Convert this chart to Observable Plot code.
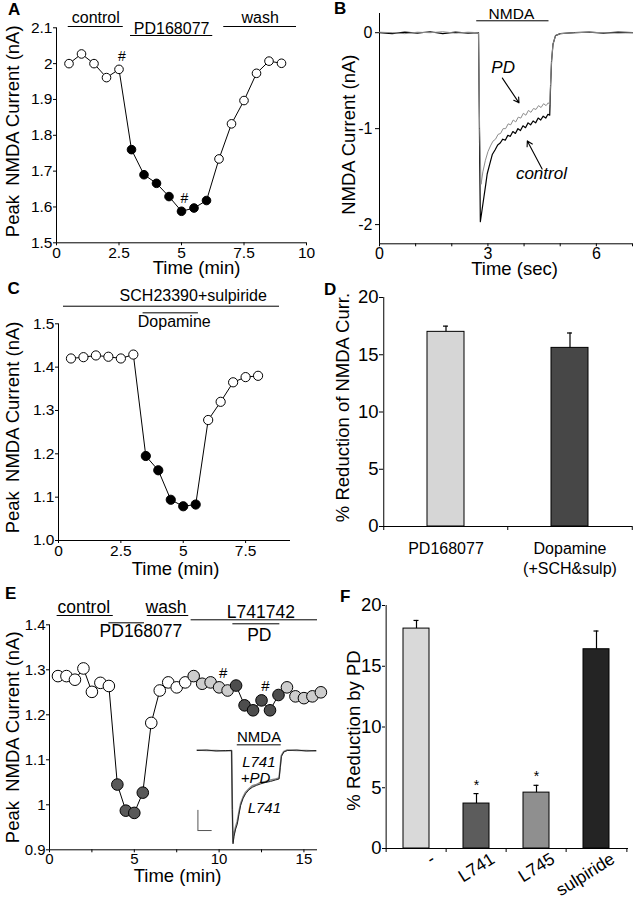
<!DOCTYPE html>
<html><head><meta charset="utf-8">
<script src="https://cdn.jsdelivr.net/npm/d3@7"></script>
<script src="https://cdn.jsdelivr.net/npm/@observablehq/plot@0.6"></script>
<style>
html,body{margin:0;padding:0;background:#fff;}
#fig{position:relative;width:634px;height:899px;overflow:hidden;background:#fff;font-family:"Liberation Sans",Arial,sans-serif;}
#fig svg{position:absolute;overflow:visible;}
.lab{position:absolute;font-weight:bold;font-size:17px;line-height:1;}
</style></head><body><div id="fig"></div>
<script>
// ---------- Panel A ----------
const aTime = [0.5,1,1.5,2,2.5,3,3.5,4,4.5,5,5.5,6,6.5,7,7.5,8,8.5,9];
const aCurrent = [2.0,2.027,2.0,1.961,1.984,1.76,1.69,1.666,1.629,1.588,1.597,1.618,1.734,1.832,1.897,1.973,2.007,2.001];
const aPhase = ["control","control","control","control","control","PD168077","PD168077","PD168077","PD168077","PD168077","PD168077","PD168077","wash","wash","wash","wash","wash","wash"];
const aHash = [2.5, 5];
const aTreatLabels = ["control","PD168077","wash"];
const aTreatStart = [0.47, 2.96, 6.69];
const aTreatEnd = [2.67, 6.25, 9.6];
const aYTicks = [1.5,1.6,1.7,1.8,1.9,2.0,2.1];
const aXTicks = [0,2.5,5,7.5,10];

// ---------- Panel B ----------
const bCtrlT = [0,0.35,0.7,1.05,1.4,1.75,2.1,2.45,2.74,2.77,2.79,2.84,2.89,2.94,2.98,3.05,3.12,3.2,3.27,3.34,3.41,3.48,3.55,3.62,3.69,3.76,3.83,3.9,3.97,4.04,4.11,4.18,4.25,4.32,4.39,4.46,4.53,4.6,4.66,4.71,4.73,4.76,4.8,4.87,5.0,5.4,5.8,6.2,6.6,7.0];
const bCtrlV = [0,-0.01,0.005,-0.005,0.01,-0.01,0.005,-0.005,0,-1.2,-1.97,-1.84,-1.71,-1.58,-1.47,-1.37,-1.27,-1.22,-1.17,-1.15,-1.11,-1.12,-1.07,-1.08,-1.03,-1.05,-1.0,-1.02,-0.97,-0.99,-0.94,-0.96,-0.92,-0.94,-0.89,-0.91,-0.87,-0.89,-0.85,-0.86,-0.6,-0.3,-0.12,-0.03,-0.01,0,0.005,-0.005,0.005,0];
const bPdT = [0,0.35,0.7,1.05,1.4,1.75,2.1,2.45,2.74,2.77,2.81,2.86,2.93,3.0,3.07,3.14,3.21,3.28,3.35,3.42,3.49,3.56,3.63,3.7,3.77,3.84,3.91,3.98,4.05,4.12,4.19,4.26,4.33,4.4,4.47,4.54,4.61,4.67,4.71,4.73,4.76,4.8,4.87,5.0,5.4,5.8,6.2,6.6,7.0];
const bPdV = [0.005,0,-0.01,0.005,0,0.01,-0.005,0.005,0,-1.0,-1.58,-1.45,-1.33,-1.24,-1.18,-1.13,-1.11,-1.06,-1.05,-1.0,-1.0,-0.95,-0.96,-0.91,-0.93,-0.88,-0.89,-0.84,-0.86,-0.81,-0.83,-0.79,-0.8,-0.76,-0.78,-0.74,-0.76,-0.73,-0.75,-0.55,-0.3,-0.12,-0.03,-0.01,0,0.005,0,-0.005,0];
const bYTicks = [0,-1,-2];
const bXTicks = [0,3,6];
const bXMinor = [1,2,4,5,7];

// ---------- Panel C ----------
const cTime = [0.5,1,1.5,2,2.5,3,3.5,4,4.5,5,5.5,6,6.5,7,7.5,8];
const cCurrent = [1.42,1.423,1.427,1.424,1.42,1.429,1.195,1.162,1.094,1.079,1.083,1.278,1.32,1.365,1.377,1.38];
const cPhase = ["ctrl","ctrl","ctrl","ctrl","ctrl","ctrl","dopamine","dopamine","dopamine","dopamine","dopamine","wash","wash","wash","wash","wash"];
const cYTicks = [1.0,1.1,1.2,1.3,1.4,1.5];
const cXTicks = [0,2.5,5,7.5];

// ---------- Panel D ----------
const dCats = ["PD168077","Dopamine\n(+SCH&sulp)"];
const dMean = [17.0, 15.6];
const dErr = [0.5, 1.3];
const dYTicks = [0,5,10,15,20];

// ---------- Panel E ----------
const eTime = [0.5,1,1.5,2,2.5,3,3.5,4,4.5,5,5.5,6,6.5,7,7.5,8,8.5,9,9.5,10,10.5,11,11.5,12,12.5,13,13.5,14,14.5,15,15.5,16];
const eCurrent = [1.286,1.286,1.278,1.303,1.251,1.271,1.264,1.045,0.987,0.982,1.027,1.182,1.254,1.272,1.261,1.272,1.286,1.269,1.272,1.261,1.254,1.265,1.221,1.21,1.232,1.21,1.244,1.261,1.241,1.237,1.241,1.25];
const ePhase = ["control","control","control","control","control","control","control","PD","PD","PD","PD","wash","wash","wash","wash","wash","L741","L741","L741","L741","L741","L741+PD","L741+PD","L741+PD","L741+PD","L741+PD","L741+PD","L741","L741","L741","L741","L741"];
const eHash = [10, 12.5];
const eYTicks = [0.9,1.0,1.1,1.2,1.3,1.4];
const eXTicks = [0,5,10,15];
const eXMinor = [2.5,7.5,12.5];
// inset traces (NMDA current, L741 vs L741+PD)
const inT = [0,0.4,0.8,1.2,1.45,1.48,1.51,1.55,1.62,1.69,1.76,1.83,1.93,2.04,2.18,2.32,2.5,2.67,2.88,3.09,3.3,3.45,3.5,3.55,3.65,3.8,4.2,4.6,5.0];
const inL741 = [0,0.01,-0.01,0,0,-1.2,-1.9,-1.75,-1.6,-1.5,-1.3,-1.12,-0.98,-0.88,-0.8,-0.75,-0.71,-0.68,-0.65,-0.63,-0.6,-0.58,-0.35,-0.12,-0.03,0,0.01,-0.01,0];
const inL741PD = [0.01,0,0,-0.01,0,-1.15,-1.86,-1.7,-1.55,-1.44,-1.25,-1.08,-0.95,-0.85,-0.78,-0.72,-0.69,-0.65,-0.63,-0.6,-0.58,-0.56,-0.33,-0.1,-0.02,0.01,0,0,-0.01];

// ---------- Panel F ----------
const fCats = ["-","L741","L745","sulpiride"];
const fMean = [18.1, 3.7, 4.6, 16.4];
const fErr = [0.67, 0.82, 0.6, 1.5];
const fSig = [false, true, true, false];
const fYTicks = [0,5,10,15,20];

// ================= drawing =================
const FONT = '"Liberation Sans", Arial, Helvetica, sans-serif';
const baseStyle = {fontFamily: FONT, background: "transparent", overflow: "visible"};
const fig = document.getElementById("fig");
function place(node, left, top) { node.style.left = left + "px"; node.style.top = top + "px"; fig.appendChild(node); }
function letter(t, left, top) { const s = document.createElement("div"); s.className = "lab"; s.textContent = t; s.style.left = left + "px"; s.style.top = top + "px"; fig.appendChild(s); }
const fmt1 = d => String(+d.toFixed(1));
const TITLE = 18.5;
function yTitle(text, dx, dy) {
  return Plot.text([text], {frameAnchor: "left", rotate: -90, dx, dy, fontSize: TITLE, textAnchor: "middle", lineAnchor: "middle"});
}
function xTitle(text, dx, dy) {
  return Plot.text([text], {frameAnchor: "bottom", dx, dy, fontSize: TITLE, textAnchor: "middle", lineAnchor: "middle"});
}

// A
const aRows = aTime.map((t, i) => ({t, v: aCurrent[i], phase: aPhase[i]}));
const aTreat = aTreatLabels.map((label, i) => ({label, start: aTreatStart[i], end: aTreatEnd[i], level: label === "PD168077" ? 1 : 0}));
const plotA = Plot.plot({
  width: 317, height: 280, marginLeft: 56, marginRight: 11, marginTop: 27.3, marginBottom: 37.7,
  style: baseStyle,
  x: {domain: [0, 10]}, y: {domain: [1.5, 2.1]},
  color: {type: "ordinal", domain: ["control","PD168077","wash"], range: ["white","black","white"]},
  marks: [
    Plot.axisY({ticks: aYTicks, tickSize: 3, tickPadding: 1, fontSize: 15.5, label: null, tickFormat: fmt1}),
    Plot.axisX({ticks: aXTicks, tickSize: 3, tickPadding: 1, fontSize: 15.5, label: null, tickFormat: d => String(d)}),
    Plot.ruleX([0]), Plot.ruleY([1.5]),
    yTitle("Peak\u2002NMDA Current (nA)", -43, -4),
    xTitle("Time (min)", 15, 25),
    Plot.ruleY(aTreat, {x1: "start", x2: "end", y: d => d.level ? 2.0785 : 2.1036, strokeWidth: 1}),
    Plot.text(aTreat, {x: d => (d.start + d.end) / 2, y: d => d.level ? 2.0833 : 2.1128, text: "label", lineAnchor: "bottom", fontSize: 16}),
    Plot.line(aRows, {x: "t", y: "v", strokeWidth: 1}),
    Plot.dot(aRows, {x: "t", y: "v", r: 4.3, fill: "phase", stroke: "black", strokeWidth: 1}),
    Plot.text(aRows.filter(d => aHash.includes(d.t)), {x: "t", y: "v", text: () => "#", dx: 3, dy: -13, fontSize: 14, lineAnchor: "middle"})
  ]
});
place(plotA, 0, 0);

// B
const bCtrlRows = bCtrlT.map((t, i) => ({t, v: bCtrlV[i]}));
const bPdRows = bPdT.map((t, i) => ({t, v: bPdV[i]}));
const plotB = Plot.plot({
  width: 317, height: 280, marginLeft: 62, marginRight: 2, marginTop: 13, marginBottom: 36.7,
  style: baseStyle,
  x: {domain: [0, 7]}, y: {domain: [-2.2, 0.2]},
  marks: [
    Plot.axisY({ticks: bYTicks, tickSize: 4, tickPadding: 3, fontSize: 16, label: null, tickFormat: d => String(d)}),
    Plot.axisX({ticks: bXTicks, tickSize: 3, tickPadding: 1, fontSize: 16, label: null, tickFormat: d => String(d)}),
    Plot.axisX({ticks: bXMinor, tickSize: 3, label: null, tickFormat: () => ""}),
    Plot.ruleX([0]), Plot.ruleY([-2.2]),
    yTitle("NMDA Current (nA)", -30, 6),
    xTitle("Time (sec)", 8.5, 25),
    Plot.line(bCtrlRows, {x: "t", y: "v", stroke: "black", strokeWidth: 1.2}),
    Plot.line(bPdRows, {x: "t", y: "v", stroke: "#8c8c8c", strokeWidth: 1}),
    Plot.ruleY([0.124], {x1: 2.69, x2: 4.69, strokeWidth: 1}),
    Plot.text(["NMDA"], {x: 3.65, y: 0.142, lineAnchor: "bottom", fontSize: 15.5}),
    Plot.text(["PD"], {x: 3.42, y: -0.421, lineAnchor: "bottom", fontSize: 17, fontStyle: "italic"}),
    Plot.text(["control"], {x: 4.48, y: -1.524, lineAnchor: "bottom", fontSize: 17, fontStyle: "italic"}),
    Plot.arrow([{x1: 3.40, y1: -0.473, x2: 3.86, y2: -0.731}, {x1: 4.50, y1: -1.42, x2: 4.09, y2: -1.128}],
      {x1: "x1", y1: "y1", x2: "x2", y2: "y2", headLength: 8, strokeWidth: 1.1})
  ]
});
place(plotB, 317, 0);

// C
const cRows = cTime.map((t, i) => ({t, v: cCurrent[i], phase: cPhase[i]}));
const plotC = Plot.plot({
  width: 317, height: 300, marginLeft: 58, marginRight: 27, marginTop: 43.3, marginBottom: 40,
  style: baseStyle,
  x: {domain: [0, 9.3]}, y: {domain: [1.0, 1.5]},
  color: {type: "ordinal", domain: ["ctrl","dopamine","wash"], range: ["white","black","white"]},
  marks: [
    Plot.axisY({ticks: cYTicks, tickSize: 3, tickPadding: 1, fontSize: 15.5, label: null, tickFormat: d3.format(".1f")}),
    Plot.axisX({ticks: cXTicks, tickSize: 3, tickPadding: 1, fontSize: 15.5, label: null, tickFormat: d => String(d)}),
    Plot.ruleX([0]), Plot.ruleY([1.0]),
    yTitle("Peak\u2002NMDA Current (nA)", -45, -4.7),
    xTitle("Time (min)", 1, 29),
    Plot.ruleY([1.5406], {x1: 0.2, x2: 8.86, strokeWidth: 1}),
    Plot.text(["SCH23390+sulpiride"], {x: 5.4, y: 1.552, lineAnchor: "bottom", fontSize: 16}),
    Plot.ruleY([1.5253], {x1: 3.39, x2: 5.61, strokeWidth: 1}),
    Plot.text(["Dopamine"], {x: 4.64, y: 1.4922, lineAnchor: "bottom", fontSize: 16}),
    Plot.line(cRows, {x: "t", y: "v", strokeWidth: 1}),
    Plot.dot(cRows, {x: "t", y: "v", r: 4.6, fill: "phase", stroke: "black", strokeWidth: 1})
  ]
});
place(plotC, 0, 280);

// D
const dRows = dCats.map((cat, i) => ({cat, v: dMean[i], e: dErr[i]}));
const dStep = (317 - 66 - 2) / dCats.length;
const dTick = -4 * 20 / (300 - 17 - 54);
const plotD = Plot.plot({
  width: 317, height: 300, marginLeft: 66, marginRight: 2, marginTop: 17, marginBottom: 54,
  style: baseStyle,
  x: {domain: dCats, paddingInner: 0.7, paddingOuter: 0.35, axis: null},
  y: {domain: [0, 20]},
  color: {type: "ordinal", domain: dCats, range: ["#d6d6d6", "#474747"]},
  marks: [
    Plot.axisY({ticks: dYTicks, tickSize: 4, tickPadding: 1, fontSize: 18.5, label: null, tickFormat: d => String(d)}),
    Plot.ruleX([dCats[0]], {x: d => d, dx: -dStep / 2}),
    Plot.ruleY([0]),
    Plot.ruleX(dCats, {x: d => d, dx: -dStep / 2, y1: 0, y2: dTick}),
    Plot.ruleX([dCats[dCats.length - 1]], {x: d => d, dx: dStep / 2, y1: 0, y2: dTick}),
    Plot.barY(dRows, {x: "cat", y: "v", fill: "cat", stroke: "black", strokeWidth: 1}),
    Plot.ruleX(dRows, {x: "cat", y1: "v", y2: d => d.v + d.e, strokeWidth: 1.2}),
    Plot.tickY(dRows, {x: "cat", y: d => d.v + d.e, insetLeft: 16, insetRight: 16, strokeWidth: 1.2}),
    Plot.text(dRows, {x: "cat", text: "cat", frameAnchor: "bottom", lineAnchor: "top", dy: 13.5, fontSize: 16, lineHeight: 1.23}),
    yTitle("% Reduction of NMDA Curr.", -40, -4.5)
  ]
});
place(plotD, 317, 280);

// F
const fRows = fCats.map((cat, i) => ({cat, v: fMean[i], e: fErr[i], sig: fSig[i]}));
const fStep = (317 - 68 - 6) / fCats.length;
const fTick = -4 * 20 / (319 - 25 - 51);
const plotF = Plot.plot({
  width: 317, height: 319, marginLeft: 68, marginRight: 6, marginTop: 25, marginBottom: 51,
  style: baseStyle,
  x: {domain: fCats, paddingInner: 0.56, paddingOuter: 0.28, axis: null},
  y: {domain: [0, 20]},
  color: {type: "ordinal", domain: fCats, range: ["#d9d9d9", "#5c5c5c", "#8f8f8f", "#242424"]},
  marks: [
    Plot.axisY({ticks: fYTicks, tickSize: 3, tickPadding: 1, fontSize: 18.5, label: null, tickFormat: d => String(d)}),
    Plot.ruleX([fCats[0]], {x: d => d, dx: -fStep / 2}),
    Plot.ruleY([0]),
    Plot.ruleX(fCats, {x: d => d, dx: -fStep / 2, y1: 0, y2: fTick}),
    Plot.ruleX([fCats[fCats.length - 1]], {x: d => d, dx: fStep / 2, y1: 0, y2: fTick}),
    Plot.barY(fRows, {x: "cat", y: "v", fill: "cat", stroke: "black", strokeWidth: 1}),
    Plot.ruleX(fRows, {x: "cat", y1: "v", y2: d => d.v + d.e, strokeWidth: 1.2}),
    Plot.tickY(fRows, {x: "cat", y: d => d.v + d.e, insetLeft: 10.5, insetRight: 10.5, strokeWidth: 1.2}),
    Plot.text(fRows.filter(d => d.sig), {x: "cat", y: d => d.v + d.e, text: () => "*", dy: -4, lineAnchor: "bottom", fontSize: 14}),
    Plot.text(fRows, {x: "cat", text: "cat", frameAnchor: "bottom", textAnchor: "end", lineAnchor: "top", rotate: -32, dx: 13, dy: 3, fontSize: 17.5}),
    yTitle("% Reduction by PD", -31, 3.5)
  ]
});
place(plotF, 317, 580);

// E
const eRows = eTime.map((t, i) => ({t, v: eCurrent[i], phase: ePhase[i]}));
const plotE = Plot.plot({
  width: 330, height: 319, marginLeft: 49, marginRight: 13, marginTop: 44.3, marginBottom: 49.7,
  style: baseStyle,
  x: {domain: [0, 15.8]}, y: {domain: [0.9, 1.4]},
  color: {type: "ordinal", domain: ["control","PD","wash","L741","L741+PD"], range: ["white","#595959","white","#cdcdcd","#4d4d4d"]},
  marks: [
    Plot.axisY({ticks: eYTicks, tickSize: 3, tickPadding: 1, fontSize: 15, label: null, tickFormat: fmt1}),
    Plot.axisX({ticks: eXTicks, tickSize: 3, tickPadding: 1, fontSize: 15, label: null, tickFormat: d => String(d)}),
    Plot.axisX({ticks: eXMinor, tickSize: 3, label: null, tickFormat: () => ""}),
    Plot.ruleX([0]), Plot.ruleY([0.9]),
    yTitle("Peak\u2002NMDA Current (nA)", -36, 0),
    xTitle("Time (min)", -6, 26.5),
    // treatment annotations
    Plot.text(["control"], {x: 2.02, y: 1.4258, lineAnchor: "bottom", fontSize: 17.5}),
    Plot.ruleY([1.4207], {x1: 0.45, x2: 3.76}),
    Plot.ruleY([1.4044], {x1: 3.5, x2: 5.6}),
    Plot.text(["PD168077"], {x: 5.39, y: 1.3724, lineAnchor: "bottom", fontSize: 17.5}),
    Plot.text(["wash"], {x: 6.87, y: 1.4258, lineAnchor: "bottom", fontSize: 17.5}),
    Plot.ruleY([1.4207], {x1: 5.76, x2: 8.21}),
    Plot.text(["L741742"], {x: 12.46, y: 1.4156, lineAnchor: "bottom", fontSize: 17.5}),
    Plot.ruleY([1.4111], {x1: 8.35, x2: 15.8}),
    Plot.ruleY([1.4022], {x1: 10.81, x2: 13.58}),
    Plot.text(["PD"], {x: 12.37, y: 1.365, lineAnchor: "bottom", fontSize: 17.5}),
    Plot.line(eRows, {x: "t", y: "v", strokeWidth: 1}),
    Plot.dot(eRows, {x: "t", y: "v", r: 5.8, fill: "phase", stroke: "black", strokeWidth: 1}),
    Plot.text(eRows.filter(d => eHash.includes(d.t)), {x: "t", y: "v", text: () => "#", dx: 4, dy: -14, fontSize: 15, lineAnchor: "middle"})
  ]
});
place(plotE, 0, 580);

// E inset
const inRows741 = inT.map((t, i) => ({t, v: inL741[i]}));
const inRowsPD = inT.map((t, i) => ({t, v: inL741PD[i]}));
const plotIn = Plot.plot({
  width: 127, height: 125, marginLeft: 6.7, marginRight: 1.7, marginTop: 10.3, marginBottom: 1.8,
  style: baseStyle,
  x: {domain: [0, 5], axis: null}, y: {domain: [-2.0, 0.3], axis: null},
  marks: [
    Plot.line(inRowsPD, {x: "t", y: "v", stroke: "#8a8a8a", strokeWidth: 1.6}),
    Plot.line(inRows741, {x: "t", y: "v", stroke: "#222", strokeWidth: 1}),
    Plot.ruleY([0.116], {x1: 1.69, x2: 3.54}),
    Plot.text(["NMDA"], {x: 2.61, y: 0.169, lineAnchor: "bottom", fontSize: 15}),
    Plot.text(["L741"], {x: 2.6, y: -0.34, lineAnchor: "bottom", fontSize: 15, fontStyle: "italic"}),
    Plot.text(["+PD"], {x: 2.46, y: -0.66, lineAnchor: "bottom", fontSize: 15, fontStyle: "italic"}),
    Plot.text(["L741"], {x: 2.83, y: -1.27, lineAnchor: "bottom", fontSize: 15, fontStyle: "italic"}),
    Plot.ruleX([0.03], {y1: -1.22, y2: -1.63, stroke: "#555"}),
    Plot.ruleY([-1.63], {x1: 0.03, x2: 0.63, stroke: "#555"})
  ]
});
place(plotIn, 190, 725);

letter("A", 8, 1);
letter("B", 334, -0.5);
letter("C", 7.5, 280);
letter("D", 324, 281);
letter("E", 5, 585);
letter("F", 340, 588);
</script></body></html>
